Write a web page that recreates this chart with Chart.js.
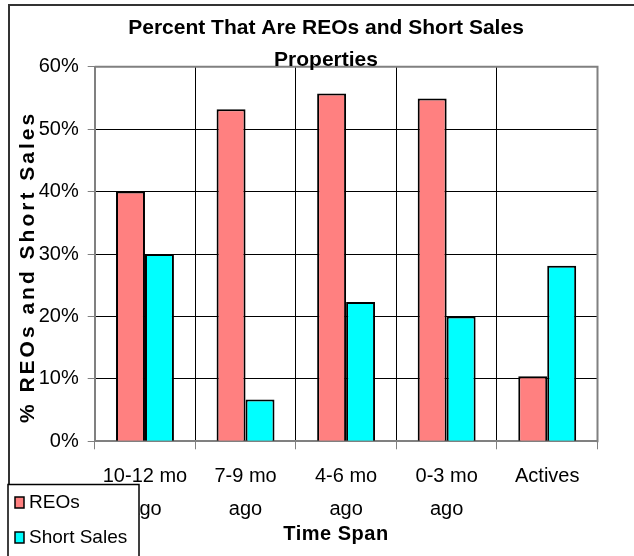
<!DOCTYPE html>
<html>
<head>
<meta charset="utf-8">
<script src="https://cdn.jsdelivr.net/npm/chart.js@4/dist/chart.umd.min.js"></script>
<style>
  body { margin: 0; background: #fff; }
  #wrap { width: 634px; height: 556px; }
</style>
</head>
<body>
<div id="wrap"><canvas id="chart" width="634" height="556"></canvas></div>
<script>
const categories = [['10-12 mo', 'ago'], ['7-9 mo', 'ago'], ['4-6 mo', 'ago'], ['0-3 mo', 'ago'], 'Actives'];
const reoValues = [40, 53.2, 55.7, 54.9, 10.4];
const shortSaleValues = [30, 6.7, 22.3, 20, 28.1];
const seriesNames = ['REOs', 'Short Sales'];
const titleLines = ['Percent That Are REOs and Short Sales', 'Properties'];
const xTitle = 'Time Span';
const yTitle = '% REOs and Short Sales';

const FONT = "'Liberation Sans', Arial, sans-serif";

// title, axis titles, frame and legend box are drawn by hand
const decor = {
    id: 'decor',
    beforeDraw(chart) {
        const ctx = chart.ctx;
        ctx.save();
        ctx.fillStyle = '#fff';
        ctx.fillRect(0, 0, chart.width, chart.height);
        ctx.restore();
    },
    afterDraw(chart) {
        const ctx = chart.ctx;
        const a = chart.chartArea;
        ctx.save();

        // top + right edge of plot area
        ctx.strokeStyle = '#808080';
        ctx.lineWidth = 2;
        ctx.beginPath();
        ctx.moveTo(a.left, a.top);
        ctx.lineTo(a.right, a.top);
        ctx.lineTo(a.right, a.bottom + 1);
        ctx.stroke();

        // outer frame
        ctx.strokeStyle = '#333';
        ctx.lineWidth = 2;
        ctx.beginPath();
        ctx.moveTo(9, chart.height);
        ctx.lineTo(9, 5);
        ctx.lineTo(chart.width, 5);
        ctx.stroke();

        // chart title
        ctx.fillStyle = '#000';
        ctx.textAlign = 'center';
        ctx.textBaseline = 'alphabetic';
        ctx.font = 'bold 21px ' + FONT;
        ctx.fillText(titleLines[0], 326, 33.5);
        ctx.fillText(titleLines[1], 326, 66);

        // x title
        ctx.font = 'bold 20px ' + FONT;
        ctx.letterSpacing = '0.5px';
        ctx.fillText(xTitle, 336, 540);

        // y title
        ctx.save();
        ctx.translate(34, 267);
        ctx.rotate(-Math.PI / 2);
        ctx.font = 'bold 21px ' + FONT;
        ctx.letterSpacing = '3px';
        ctx.fillText(yTitle, 0, 0);
        ctx.restore();
        ctx.letterSpacing = '0px';

        // legend box
        ctx.fillStyle = '#fff';
        ctx.fillRect(8, 484.5, 131, 80);
        ctx.strokeStyle = '#000';
        ctx.lineWidth = 1.5;
        ctx.strokeRect(8, 484.5, 131, 80);
        ctx.font = '19px ' + FONT;
        ctx.textAlign = 'left';
        chart.data.datasets.forEach((ds, i) => {
            const y = 508 + i * 35;
            ctx.fillStyle = ds.backgroundColor;
            ctx.fillRect(15, y - 11, 9, 11);
            ctx.strokeStyle = '#000';
            ctx.lineWidth = 1.5;
            ctx.strokeRect(15, y - 11, 9, 11);
            ctx.fillStyle = '#000';
            ctx.fillText(ds.label, 29, y);
        });

        ctx.restore();
    }
};

new Chart(document.getElementById('chart'), {
    type: 'bar',
    data: {
        labels: categories,
        datasets: [{
            label: seriesNames[0],
            data: reoValues,
            backgroundColor: '#FF8080',
            borderColor: '#000',
            borderWidth: 2,
            categoryPercentage: 0.576,
            barPercentage: 1
        }, {
            label: seriesNames[1],
            data: shortSaleValues,
            backgroundColor: '#00FFFF',
            borderColor: '#000',
            borderWidth: 2,
            categoryPercentage: 0.576,
            barPercentage: 1
        }]
    },
    options: {
        responsive: false,
        animation: false,
        layout: {
            padding: {top: 66.7, right: 36.5, bottom: 0, left: 0}
        },
        plugins: {
            legend: {display: false},
            title: {display: false},
            tooltip: {enabled: false}
        },
        scales: {
            x: {
                afterFit: (scale) => { scale.height = 114.7; },
                grid: {color: '#000', lineWidth: 1, tickLength: 8, tickColor: '#808080'},
                border: {color: '#808080', width: 2},
                ticks: {
                    color: '#000',
                    padding: 10,
                    maxRotation: 0,
                    autoSkip: false,
                    font: {family: FONT, size: 20, lineHeight: 1.67}
                }
            },
            y: {
                min: 0,
                max: 60,
                afterFit: (scale) => { scale.width = 94.7; },
                grid: {color: '#000', lineWidth: 1, tickLength: 7, tickColor: '#808080'},
                border: {color: '#808080', width: 2},
                ticks: {
                    stepSize: 10,
                    color: '#000',
                    padding: 9,
                    font: {family: FONT, size: 20},
                    callback: (v) => v + '%'
                }
            }
        }
    },
    plugins: [decor]
});
</script>
</body>
</html>
